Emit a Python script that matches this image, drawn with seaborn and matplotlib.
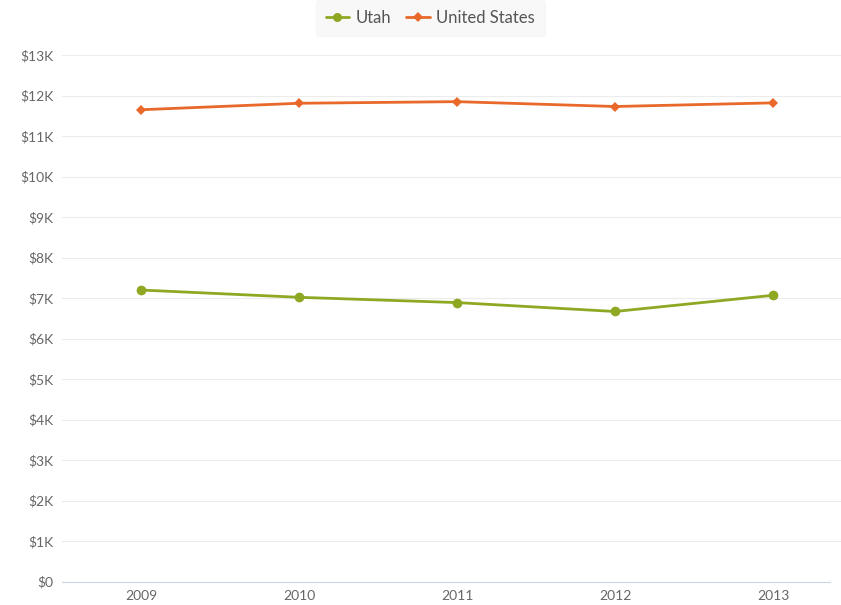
import pandas as pd
import matplotlib
matplotlib.use("Agg")
import matplotlib.pyplot as plt
import seaborn as sns

# Values
YEARS = ["2009", "2010", "2011", "2012", "2013"]
UTAH = [7200, 7020, 6890, 6670, 7070]
UNITED_STATES = [11650, 11810, 11850, 11730, 11820]

df = pd.DataFrame({
    "year": YEARS * 2,
    "value": UTAH + UNITED_STATES,
    "region": ["Utah"] * len(YEARS) + ["United States"] * len(YEARS),
})

sns.set_style("white")
plt.rcParams["font.family"] = ["Lato", "DejaVu Sans"]

fig = plt.figure(figsize=(8.41, 6.05), dpi=100)
ax = fig.add_axes([62 / 841, 0.0385, 779 / 841, 0.8705])

palette = {"Utah": "#8fa823", "United States": "#e8692a"}
markers = {"Utah": "o", "United States": "D"}
sns.lineplot(data=df, x="year", y="value", hue="region", style="region",
             markers=markers, dashes=False, palette=palette, linewidth=2,
             markersize=7, markeredgewidth=0, ax=ax)

# diamonds look smaller in the original
for line in ax.lines:
    if line.get_marker() == "D":
        line.set_markersize(5.5)

ax.set_ylim(0, 13000)
ax.set_xlim(-0.5, 4.43)
ax.set_yticks(range(0, 13001, 1000))
ax.set_yticklabels(["$0"] + [f"${k}K" for k in range(1, 14)])
ax.grid(axis="y", color="#ececec", linewidth=0.8)
ax.set_axisbelow(True)
for side in ["top", "right", "left"]:
    ax.spines[side].set_visible(False)
ax.spines["bottom"].set_color("#ccd6eb")
ax.spines["bottom"].set_bounds(-0.5, 4.36)
ax.tick_params(axis="both", length=0, labelsize=10, colors="#666666")
ax.tick_params(axis="y", pad=6)
ax.tick_params(axis="x", pad=6)
ax.set_xlabel("")
ax.set_ylabel("")

handles, labels = ax.get_legend_handles_labels()
for h in handles:
    if h.get_marker() == "D":
        h.set_markersize(5)
    else:
        h.set_markersize(6.5)
ax.legend(handles, labels, loc="center", bbox_to_anchor=(0.473, 1.07),
          ncol=2, frameon=True, facecolor="#f7f7f7", edgecolor="#f7f7f7",
          fontsize=12, labelcolor="#555555", handlelength=1.4,
          handletextpad=0.4, columnspacing=0.9, borderpad=0.6,
          fancybox=True)

fig.savefig("out.png", dpi=100)
